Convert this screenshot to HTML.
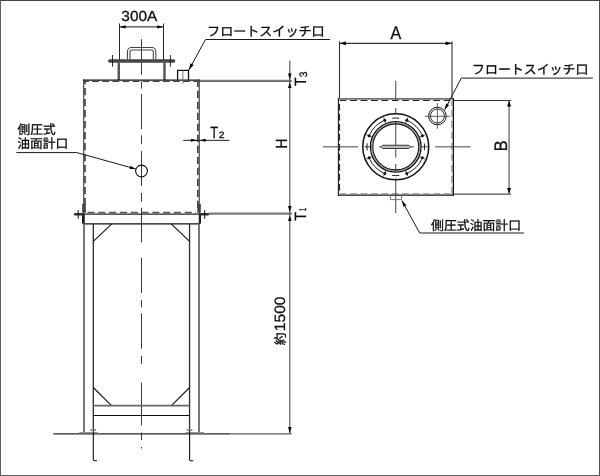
<!DOCTYPE html>
<html><head><meta charset="utf-8"><title>drawing</title>
<style>
html,body{margin:0;padding:0;background:#fff;}
body{width:600px;height:476px;overflow:hidden;font-family:"Liberation Sans",sans-serif;}
#wrap{position:relative;width:600px;height:476px;box-sizing:border-box;background:#fff;}
svg{position:absolute;left:0;top:0;display:block;will-change:transform;}
svg text{font-family:"Liberation Sans","Noto Sans CJK JP",sans-serif;text-rendering:geometricPrecision;}
#bd{position:absolute;left:0;top:0;width:598px;height:474px;border-style:solid;border-width:1px;border-color:#444 #505050 #606060 #606060;pointer-events:none;}
</style></head><body>
<div id="wrap">
<svg width="600" height="476" viewBox="0 0 600 476">
<line x1="141.5" y1="39.2" x2="141.5" y2="74.7" stroke="#222" stroke-width="0.9" />
<line x1="141.5" y1="81.5" x2="141.5" y2="88.5" stroke="#222" stroke-width="0.9" />
<line x1="141.5" y1="94" x2="141.5" y2="129.1" stroke="#222" stroke-width="0.9" />
<line x1="141.5" y1="135.4" x2="141.5" y2="144.2" stroke="#222" stroke-width="0.9" />
<line x1="141.5" y1="151.2" x2="141.5" y2="185.9" stroke="#222" stroke-width="0.9" />
<line x1="141.5" y1="193" x2="141.5" y2="201.6" stroke="#222" stroke-width="0.9" />
<line x1="141.5" y1="207.9" x2="141.5" y2="242.5" stroke="#222" stroke-width="0.9" />
<line x1="141.5" y1="257.7" x2="141.5" y2="293" stroke="#222" stroke-width="0.9" />
<line x1="141.5" y1="300.2" x2="141.5" y2="307.2" stroke="#222" stroke-width="0.9" />
<line x1="141.5" y1="313.5" x2="141.5" y2="348.7" stroke="#222" stroke-width="0.9" />
<line x1="141.5" y1="356" x2="141.5" y2="363.8" stroke="#222" stroke-width="0.9" />
<line x1="141.5" y1="382.5" x2="141.5" y2="425.5" stroke="#222" stroke-width="0.9" />
<line x1="141.5" y1="432.5" x2="141.5" y2="440" stroke="#222" stroke-width="0.9" />
<line x1="141.5" y1="447" x2="141.5" y2="448.5" stroke="#222" stroke-width="0.9" />
<line x1="119.5" y1="23.5" x2="119.5" y2="62" stroke="#111" stroke-width="0.9" />
<line x1="163.5" y1="23.5" x2="163.5" y2="62" stroke="#111" stroke-width="0.9" />
<line x1="119.5" y1="26.9" x2="163.5" y2="26.9" stroke="#444" stroke-width="1.2" />
<polygon points="119.60,26.90 125.60,25.30 125.60,28.50" fill="#000"/>
<polygon points="163.20,26.90 157.20,28.50 157.20,25.30" fill="#000"/>
<text transform="translate(121.31,21.16) scale(1.060,1)" font-size="14.55" fill="#111" stroke="#111" stroke-width="0.3">300A</text>
<path d="M127.5,59.5V51.5a4,4 0 0 1 4,-4H151.8a4,4 0 0 1 4,4V59.5" fill="none" stroke="#444" stroke-width="1.1" />
<path d="M130,59.5V52a2,2 0 0 1 2,-2H151.3a2,2 0 0 1 2,2V59.5" fill="none" stroke="#444" stroke-width="1.1" />
<line x1="109.8" y1="61" x2="173.6" y2="61" stroke="#464646" stroke-width="3.6" stroke-linecap="round"/>
<line x1="112.5" y1="55" x2="112.5" y2="66.7" stroke="#222" stroke-width="0.95" />
<line x1="170.4" y1="55" x2="170.4" y2="66.7" stroke="#222" stroke-width="0.95" />
<line x1="118.75" y1="62.5" x2="118.75" y2="80" stroke="#585858" stroke-width="2.5" />
<line x1="164.5" y1="62.5" x2="164.5" y2="80" stroke="#585858" stroke-width="2.5" />
<line x1="83.65" y1="79.5" x2="83.65" y2="214.0" stroke="#585858" stroke-width="1.3" />
<line x1="199.3" y1="79.5" x2="199.3" y2="214.0" stroke="#585858" stroke-width="1.3" />
<line x1="83.0" y1="80.1" x2="199.89999999999998" y2="80.1" stroke="#111" stroke-width="1.35" />
<line x1="85.0" y1="80.8" x2="85.0" y2="212.5" stroke="#3c3c3c" stroke-width="1.6" stroke-dasharray="7.2 3.8" stroke-dashoffset="3.8"/>
<line x1="197.85" y1="80.8" x2="197.85" y2="212.5" stroke="#3c3c3c" stroke-width="1.6" stroke-dasharray="7.2 3.8" stroke-dashoffset="1.0"/>
<line x1="84.1" y1="81.35" x2="198.6" y2="81.35" stroke="#444" stroke-width="1.1" stroke-dasharray="6.8 3.3" stroke-dashoffset="2"/>
<line x1="87.5" y1="212.5" x2="196" y2="212.5" stroke="#555" stroke-width="1.4" stroke-dasharray="7.1 3.7"/>
<line x1="83.95" y1="204" x2="83.95" y2="212.6" stroke="#444" stroke-width="3.6" />
<line x1="199.1" y1="204" x2="199.1" y2="212.6" stroke="#444" stroke-width="3.4" />
<line x1="199.2" y1="80.2" x2="291.8" y2="80.2" stroke="#777" stroke-width="1.1" />
<line x1="199.2" y1="81.3" x2="291.8" y2="81.3" stroke="#333" stroke-width="1.1" />
<line x1="208.5" y1="213.65" x2="291.8" y2="213.65" stroke="#7a7a7a" stroke-width="2.4" />
<path d="M177.6,80V70.4H188.5V80" fill="none" stroke="#111" stroke-width="1.3" />
<line x1="182.9" y1="70.4" x2="182.9" y2="83.6" stroke="#666" stroke-width="0.9" />
<polyline points="330,39.5 205.5,39.5 188.8,70.1" fill="none" stroke="#1a1a1a" stroke-width="1.0" />
<polygon points="188.80,70.10 190.48,63.27 193.64,64.99" fill="#000"/>
<text x="207.09" y="36.06" font-size="13" textLength="117.5" lengthAdjust="spacingAndGlyphs" fill="#0a0a0a" stroke="#0a0a0a" stroke-width="0.3">フロートスイッチ口</text>
<circle cx="141.5" cy="171" r="5.9" fill="none" stroke="#111" stroke-width="1.1" />
<polyline points="16.4,152.6 76.8,152.6 135.6,168.9" fill="none" stroke="#1a1a1a" stroke-width="1.0" />
<polygon points="135.60,168.90 129.58,168.89 130.44,165.81" fill="#000"/>
<text x="17.57" y="134.25" font-size="12.6" textLength="38" lengthAdjust="spacingAndGlyphs" fill="#0a0a0a" stroke="#0a0a0a" stroke-width="0.3">側圧式</text>
<text x="17.25" y="147.67" font-size="12.7" textLength="51" lengthAdjust="spacingAndGlyphs" fill="#0a0a0a" stroke="#0a0a0a" stroke-width="0.3">油面計口</text>
<line x1="183.2" y1="140.35" x2="229.5" y2="140.35" stroke="#222" stroke-width="1.0" />
<polygon points="197.30,140.35 190.90,141.85 190.90,138.85" fill="#000"/>
<polygon points="199.70,140.35 205.70,138.85 205.70,141.85" fill="#000"/>
<text transform="translate(210.21,137.70) scale(0.793,1)" font-size="16.28" fill="#111" stroke="#111" stroke-width="0.3">T</text>
<text transform="translate(218.68,137.70) scale(1.126,1)" font-size="9.17" fill="#111" stroke="#111" stroke-width="0.3">2</text>
<line x1="289.8" y1="60.8" x2="289.8" y2="433.8" stroke="#555" stroke-width="1.2" />
<polygon points="289.80,79.60 288.00,73.60 291.60,73.60" fill="#000"/>
<polygon points="289.80,82.30 291.60,87.90 288.00,87.90" fill="#000"/>
<polygon points="289.80,211.90 288.00,206.10 291.60,206.10" fill="#000"/>
<polygon points="289.80,215.40 291.60,221.00 288.00,221.00" fill="#000"/>
<polygon points="289.80,433.60 288.10,427.10 291.50,427.10" fill="#000"/>
<text transform="translate(306.40,86.01) rotate(-90) scale(0.858,1)" font-size="16.28" fill="#111" stroke="#111" stroke-width="0.3">T</text>
<text transform="translate(306.80,77.29) rotate(-90) scale(0.963,1)" font-size="10.73" fill="#111" stroke="#111" stroke-width="0.3">3</text>
<text transform="translate(306.40,220.73) rotate(-90) scale(0.891,1)" font-size="16.28" fill="#111" stroke="#111" stroke-width="0.3">T</text>
<text transform="translate(306.40,211.02) rotate(-90) scale(0.572,1)" font-size="9.74" fill="#111" stroke="#111" stroke-width="0.3">1</text>
<text transform="translate(287.20,148.62) rotate(-90) scale(0.843,1)" font-size="16.13" fill="#111" stroke="#111" stroke-width="0.3">H</text>
<text transform="translate(284.93,345.33) rotate(-90)" font-size="12.8" fill="#0a0a0a" stroke="#0a0a0a" stroke-width="0.3">約</text>
<text transform="translate(285.05,331.19) rotate(-90) scale(1.042,1)" font-size="14.97" fill="#111" stroke="#111" stroke-width="0.3">1500</text>
<path d="M82.6,214.2V222.3a1.5,1.5 0 0 0 1.5,1.5H198.9a1.5,1.5 0 0 0 1.5,-1.5V214.2" fill="none" stroke="#111" stroke-width="1.2" />
<line x1="82.6" y1="214.2" x2="200.4" y2="214.2" stroke="#222" stroke-width="1.2" />
<line x1="83.8" y1="214" x2="83.8" y2="223.5" stroke="#222" stroke-width="2.0" />
<line x1="199.75" y1="214" x2="199.75" y2="223.5" stroke="#222" stroke-width="2.0" />
<line x1="75.3" y1="214.25" x2="82.5" y2="214.25" stroke="#333" stroke-width="2.7" stroke-linecap="round"/>
<line x1="78.2" y1="210.1" x2="78.2" y2="218.8" stroke="#111" stroke-width="1.0" />
<line x1="200.4" y1="214.25" x2="207.7" y2="214.25" stroke="#333" stroke-width="2.7" stroke-linecap="round"/>
<line x1="204.7" y1="210.1" x2="204.7" y2="218.8" stroke="#111" stroke-width="1.0" />
<line x1="84.0" y1="223.8" x2="84.0" y2="432.3" stroke="#707070" stroke-width="1.9" />
<line x1="93.3" y1="223.8" x2="93.3" y2="428.8" stroke="#2a2a2a" stroke-width="1.3" />
<line x1="189.55" y1="223.8" x2="189.55" y2="428.8" stroke="#2a2a2a" stroke-width="1.3" />
<line x1="199.0" y1="223.8" x2="199.0" y2="432.3" stroke="#707070" stroke-width="1.9" />
<line x1="111.8" y1="223.8" x2="93.3" y2="241.3" stroke="#111" stroke-width="1.1" />
<line x1="171.2" y1="223.8" x2="189.6" y2="241.3" stroke="#111" stroke-width="1.1" />
<line x1="93.3" y1="387.5" x2="111.8" y2="405.8" stroke="#111" stroke-width="1.1" />
<line x1="189.6" y1="387.5" x2="171.2" y2="405.8" stroke="#111" stroke-width="1.1" />
<line x1="93.3" y1="405.7" x2="189.6" y2="405.7" stroke="#686868" stroke-width="1.8" />
<line x1="93.3" y1="415.5" x2="189.6" y2="415.5" stroke="#111" stroke-width="1.2" />
<line x1="53.3" y1="433.9" x2="230" y2="433.9" stroke="#262626" stroke-width="1.25" />
<line x1="230" y1="433.9" x2="291.7" y2="433.9" stroke="#606060" stroke-width="1.2" />
<polygon points="78.6,433.6 79.6,432.2 97.4,432.2 98.4,433.6" fill="#707070"/>
<polygon points="184.6,433.6 185.6,432.2 203.6,432.2 204.6,433.6" fill="#707070"/>
<path d="M93.3,428.8V459.2a1.6,1.6 0 0 0 1.6,1.6H97" fill="none" stroke="#111" stroke-width="1.1" />
<path d="M189.6,428.8V459.2a1.6,1.6 0 0 0 1.6,1.6H193.3" fill="none" stroke="#111" stroke-width="1.1" />
<line x1="90.3" y1="430.0" x2="96.1" y2="430.0" stroke="#777" stroke-width="1.5" />
<line x1="186.6" y1="430.0" x2="192.4" y2="430.0" stroke="#777" stroke-width="1.5" />
<line x1="339.5" y1="41.3" x2="339.5" y2="98.5" stroke="#333" stroke-width="1.1" />
<line x1="452.0" y1="41.3" x2="452.0" y2="98.5" stroke="#333" stroke-width="1.1" />
<line x1="339.5" y1="43.35" x2="452" y2="43.35" stroke="#333" stroke-width="1.1" />
<polygon points="339.90,43.35 345.90,41.55 345.90,45.15" fill="#000"/>
<polygon points="451.60,43.35 445.60,45.15 445.60,41.55" fill="#000"/>
<text transform="translate(390.57,39.00) scale(0.888,1)" font-size="18.17" fill="#111" stroke="#111" stroke-width="0.3">A</text>
<line x1="337.9" y1="98.95" x2="453.9" y2="98.95" stroke="#707070" stroke-width="1.7" />
<line x1="338.45" y1="98.2" x2="338.45" y2="195.7" stroke="#222" stroke-width="1.2" />
<line x1="453.35" y1="98.2" x2="453.35" y2="195.7" stroke="#111" stroke-width="1.3" />
<line x1="337.9" y1="195.1" x2="453.9" y2="195.1" stroke="#111" stroke-width="1.25" />
<line x1="339.8" y1="100.45" x2="452.5" y2="100.45" stroke="#222" stroke-width="1.1" stroke-dasharray="6.7 3.7"/>
<line x1="339.55" y1="101" x2="339.55" y2="194" stroke="#2c2c2c" stroke-width="1.1" stroke-dasharray="6.6 3.4" stroke-dashoffset="7"/>
<line x1="452.0" y1="101" x2="452.0" y2="194" stroke="#909090" stroke-width="1.5" stroke-dasharray="6.8 4.2" stroke-dashoffset="2"/>
<line x1="339.8" y1="193.8" x2="452.5" y2="193.8" stroke="#888" stroke-width="1.3" stroke-dasharray="6.7 3.7"/>
<line x1="322.8" y1="146.85" x2="358" y2="146.85" stroke="#444" stroke-width="1.0" />
<line x1="364.5" y1="146.85" x2="372.5" y2="146.85" stroke="#444" stroke-width="1.0" />
<line x1="379" y1="146.85" x2="414" y2="146.85" stroke="#444" stroke-width="1.0" />
<line x1="420.5" y1="146.85" x2="428.5" y2="146.85" stroke="#444" stroke-width="1.0" />
<line x1="435.2" y1="146.85" x2="470.5" y2="146.85" stroke="#444" stroke-width="1.0" />
<line x1="395.75" y1="80.7" x2="395.75" y2="101.2" stroke="#444" stroke-width="1.0" />
<line x1="395.75" y1="108" x2="395.75" y2="113.8" stroke="#444" stroke-width="1.0" />
<line x1="395.75" y1="121.2" x2="395.75" y2="157.6" stroke="#444" stroke-width="1.0" />
<line x1="395.75" y1="163.9" x2="395.75" y2="172" stroke="#444" stroke-width="1.0" />
<line x1="395.75" y1="178.5" x2="395.75" y2="213.1" stroke="#444" stroke-width="1.0" />
<circle cx="395.75" cy="146.85" r="33" fill="none" stroke="#111" stroke-width="1.5" />
<circle cx="395.75" cy="146.85" r="25.3" fill="none" stroke="#111" stroke-width="1.3" />
<circle cx="395.75" cy="146.85" r="24.1" fill="none" stroke="#777" stroke-width="0.8" />
<circle cx="395.75" cy="146.85" r="23" fill="none" stroke="#111" stroke-width="1.1" />
<line x1="419.77" y1="156.80" x2="425.31" y2="159.10" stroke="#111" stroke-width="0.7" />
<circle cx="422.36" cy="157.87" r="1.5" fill="#111"/>
<line x1="405.70" y1="170.87" x2="408.00" y2="176.41" stroke="#111" stroke-width="0.7" />
<circle cx="406.77" cy="173.46" r="1.5" fill="#111"/>
<line x1="385.80" y1="170.87" x2="383.50" y2="176.41" stroke="#111" stroke-width="0.7" />
<circle cx="384.73" cy="173.46" r="1.5" fill="#111"/>
<line x1="371.73" y1="156.80" x2="366.19" y2="159.10" stroke="#111" stroke-width="0.7" />
<circle cx="369.14" cy="157.87" r="1.5" fill="#111"/>
<line x1="371.73" y1="136.90" x2="366.19" y2="134.60" stroke="#111" stroke-width="0.7" />
<circle cx="369.14" cy="135.83" r="1.5" fill="#111"/>
<line x1="385.80" y1="122.83" x2="383.50" y2="117.29" stroke="#111" stroke-width="0.7" />
<circle cx="384.73" cy="120.24" r="1.5" fill="#111"/>
<line x1="405.70" y1="122.83" x2="408.00" y2="117.29" stroke="#111" stroke-width="0.7" />
<circle cx="406.77" cy="120.24" r="1.5" fill="#111"/>
<line x1="419.77" y1="136.90" x2="425.31" y2="134.60" stroke="#111" stroke-width="0.7" />
<circle cx="422.36" cy="135.83" r="1.5" fill="#111"/>
<path d="M421.74,159.25A28.8,28.8 0 0 1 408.15,172.84" fill="none" stroke="#111" stroke-width="0.95" />
<path d="M424.34,143.34A28.8,28.8 0 0 1 424.34,150.36" fill="none" stroke="#111" stroke-width="0.95" />
<path d="M383.35,172.84A28.8,28.8 0 0 1 369.76,159.25" fill="none" stroke="#111" stroke-width="0.95" />
<path d="M399.26,175.44A28.8,28.8 0 0 1 392.24,175.44" fill="none" stroke="#111" stroke-width="0.95" />
<path d="M369.76,134.45A28.8,28.8 0 0 1 383.35,120.86" fill="none" stroke="#111" stroke-width="0.95" />
<path d="M367.16,150.36A28.8,28.8 0 0 1 367.16,143.34" fill="none" stroke="#111" stroke-width="0.95" />
<path d="M408.15,120.86A28.8,28.8 0 0 1 421.74,134.45" fill="none" stroke="#111" stroke-width="0.95" />
<path d="M392.24,118.26A28.8,28.8 0 0 1 399.26,118.26" fill="none" stroke="#111" stroke-width="0.95" />
<path d="M381.1,146.85L382.7,145.25H408.8L410.4,146.85L408.8,148.45H382.7Z" fill="#d4d4d4" stroke="#333" stroke-width="1.0" />
<line x1="381.5" y1="146.85" x2="410" y2="146.85" stroke="#999" stroke-width="0.7" />
<circle cx="437.4" cy="116" r="8.8" fill="none" stroke="#111" stroke-width="1.0" />
<circle cx="437.4" cy="116" r="7" fill="none" stroke="#111" stroke-width="0.9" />
<line x1="424.8" y1="116.3" x2="449.8" y2="116.3" stroke="#606060" stroke-width="1.0" />
<line x1="437.4" y1="103.1" x2="437.4" y2="128.8" stroke="#606060" stroke-width="1.0" />
<polyline points="592.8,78.1 461.3,78.1 444.7,109.7" fill="none" stroke="#1a1a1a" stroke-width="1.0" />
<polygon points="444.70,109.70 446.08,103.42 449.09,105.00" fill="#000"/>
<text x="472.11" y="74.39" font-size="12.85" textLength="116.2" lengthAdjust="spacingAndGlyphs" fill="#0a0a0a" stroke="#0a0a0a" stroke-width="0.3">フロートスイッチ口</text>
<line x1="453.9" y1="100.5" x2="511" y2="100.5" stroke="#333" stroke-width="1.1" />
<line x1="453.9" y1="194.1" x2="511" y2="194.1" stroke="#555" stroke-width="1.2" />
<line x1="509.1" y1="100.5" x2="509.1" y2="194.1" stroke="#7a7a7a" stroke-width="1.5" />
<polygon points="509.10,100.80 511.10,106.60 507.10,106.60" fill="#000"/>
<polygon points="509.10,193.80 507.10,188.00 511.10,188.00" fill="#000"/>
<text transform="translate(506.80,151.34) rotate(-90) scale(0.900,1)" font-size="18.17" fill="#111" stroke="#111" stroke-width="0.3">B</text>
<path d="M390.4,195.5V199.6H401.5V195.5" fill="none" stroke="#666" stroke-width="0.9" />
<polyline points="523.9,233.0 419.7,233.0 401.9,200.6" fill="none" stroke="#1a1a1a" stroke-width="1.0" />
<polygon points="401.90,200.60 406.38,205.22 403.40,206.85" fill="#000"/>
<text x="431.07" y="229.94" font-size="12.8" textLength="90" lengthAdjust="spacingAndGlyphs" fill="#0a0a0a" stroke="#0a0a0a" stroke-width="0.3">側圧式油面計口</text>
</svg>
<div id="bd"></div>
</div>
</body></html>
